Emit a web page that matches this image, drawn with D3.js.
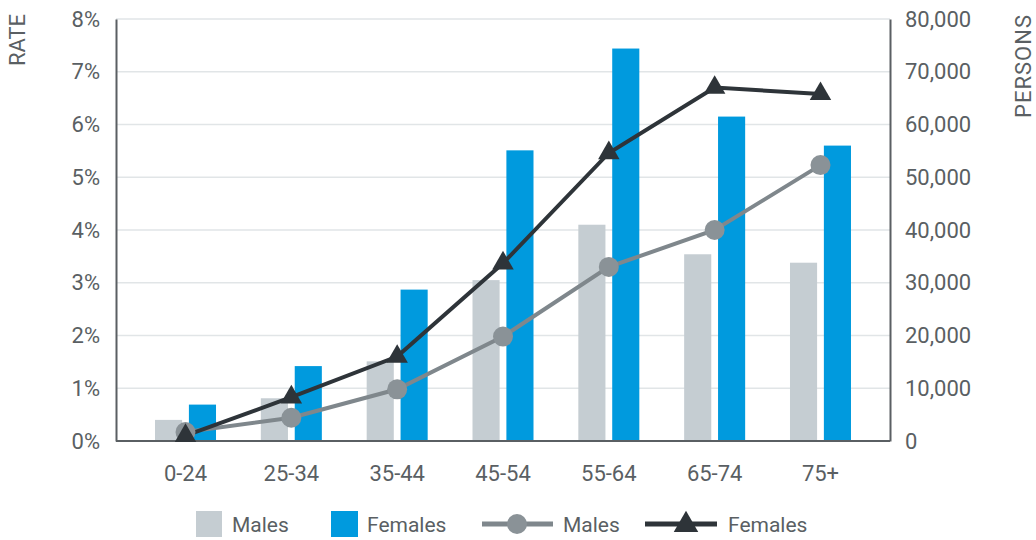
<!DOCTYPE html>
<html>
<head>
<meta charset="utf-8">
<script src="https://cdn.jsdelivr.net/npm/d3@7"></script>
<style>
  html, body { margin: 0; padding: 0; background: #ffffff; }
  svg text { font-family: Roboto, "DejaVu Sans", sans-serif; fill: #5a5f63; }
</style>
</head>
<body>
<svg id="chart" width="1036" height="540"></svg>
<script>
// Age groups
const categories = ["0-24", "25-34", "35-44", "45-54", "55-64", "65-74", "75+"];

// Number of persons (right axis)
const malesPersons   = [4000, 8100, 15100, 30500, 41000, 35400, 33800];
const femalesPersons = [6900, 14200, 28700, 55100, 74400, 61500, 56000];

// Rate in percent (left axis)
const malesRate   = [0.17, 0.44, 0.98, 1.98, 3.30, 4.00, 5.23];
const femalesRate = [0.10, 0.83, 1.60, 3.37, 5.46, 6.70, 6.58];

// Tick values
const rateTicks    = [0, 1, 2, 3, 4, 5, 6, 7, 8];
const personsTicks = [0, 10000, 20000, 30000, 40000, 50000, 60000, 70000, 80000];

const colors = {
  maleBar: "#c5cdd2",
  femaleBar: "#009ade",
  maleLine: "#7f878c",
  maleDot: "#8a9297",
  femaleLine: "#2e3439",
  grid: "#e1e5e7",
  axis: "#5a5f63"
};

const svg = d3.select("#chart");
const plot = { left: 116, right: 890, top: 19, bottom: 441 };

const x = d3.scaleBand()
  .domain(categories)
  .range([plot.left + 16.6, plot.right - 16.6]);

const xInner = d3.scaleBand()
  .domain(["Males", "Females"])
  .range([0, 61])
  .paddingInner(0.2);

const yRate = d3.scaleLinear().domain([0, 8]).range([plot.bottom, plot.top]);
const yPersons = d3.scaleLinear().domain([0, 80000]).range([plot.bottom, plot.top]);

// Horizontal gridlines
svg.append("g")
  .selectAll("line")
  .data(rateTicks.filter(d => d > 0))
  .join("line")
  .attr("x1", plot.left)
  .attr("x2", plot.right)
  .attr("y1", d => yRate(d))
  .attr("y2", d => yRate(d))
  .attr("stroke", colors.grid)
  .attr("stroke-width", 1.5);

// Bars
const groups = svg.append("g")
  .selectAll("g")
  .data(categories)
  .join("g")
  .attr("transform", d => `translate(${x(d) + x.bandwidth() / 2 - 30.5},0)`);

groups.append("rect")
  .attr("x", xInner("Males"))
  .attr("width", xInner.bandwidth())
  .attr("y", (d, i) => yPersons(malesPersons[i]))
  .attr("height", (d, i) => plot.bottom - yPersons(malesPersons[i]))
  .attr("fill", colors.maleBar);

groups.append("rect")
  .attr("x", xInner("Females"))
  .attr("width", xInner.bandwidth())
  .attr("y", (d, i) => yPersons(femalesPersons[i]))
  .attr("height", (d, i) => plot.bottom - yPersons(femalesPersons[i]))
  .attr("fill", colors.femaleBar);

// Axes
const leftAxis = d3.axisLeft(yRate)
  .tickValues(rateTicks)
  .tickFormat(d => d + "%")
  .tickSize(0)
  .tickPadding(16);

const rightAxis = d3.axisRight(yPersons)
  .tickValues(personsTicks)
  .tickFormat(d3.format(","))
  .tickSize(0)
  .tickPadding(15);

const bottomAxis = d3.axisBottom(x)
  .tickSize(0)
  .tickPadding(24);

function styleAxis(g) {
  g.select(".domain").attr("stroke", colors.axis).attr("stroke-width", 2);
  g.selectAll("text")
    .attr("font-size", 22)
    .attr("fill", "#5a5f63")
    .style("font-family", "Roboto, sans-serif");
}

svg.append("g")
  .attr("transform", `translate(${plot.left},0)`)
  .call(leftAxis)
  .call(styleAxis);

svg.append("g")
  .attr("transform", `translate(${plot.right},0)`)
  .call(rightAxis)
  .call(styleAxis);

const xg = svg.append("g")
  .attr("transform", `translate(0,${plot.bottom})`)
  .call(bottomAxis)
  .call(styleAxis);
xg.select(".domain").attr("d", `M${plot.left},0H${plot.right}`);

// Lines
const xc = d => x(d) + x.bandwidth() / 2;

const maleLine = d3.line()
  .x((d, i) => xc(categories[i]))
  .y(d => yRate(d));

svg.append("path")
  .datum(malesRate)
  .attr("d", maleLine)
  .attr("fill", "none")
  .attr("stroke", colors.maleLine)
  .attr("stroke-width", 4);

svg.append("path")
  .datum(femalesRate)
  .attr("d", maleLine)
  .attr("fill", "none")
  .attr("stroke", colors.femaleLine)
  .attr("stroke-width", 4);

svg.append("g")
  .selectAll("circle")
  .data(malesRate)
  .join("circle")
  .attr("cx", (d, i) => xc(categories[i]))
  .attr("cy", d => yRate(d))
  .attr("r", 10)
  .attr("fill", colors.maleDot);

const tri = d3.symbol().type(d3.symbolTriangle).size(200);
svg.append("g")
  .selectAll("path")
  .data(femalesRate)
  .join("path")
  .attr("transform", (d, i) => `translate(${xc(categories[i])},${yRate(d)})`)
  .attr("d", tri)
  .attr("fill", colors.femaleLine);

// Axis titles
svg.append("text")
  .attr("transform", "translate(25,40) rotate(-90)")
  .attr("text-anchor", "middle")
  .attr("font-size", 22)
  .text("RATE");

svg.append("text")
  .attr("transform", "translate(1031,66) rotate(-90)")
  .attr("text-anchor", "middle")
  .attr("font-size", 22)
  .attr("letter-spacing", 1)
  .text("PERSONS");

// Legend
const legend = svg.append("g");
const ly = 524;

legend.append("rect").attr("x", 196).attr("y", ly - 13).attr("width", 26).attr("height", 26).attr("fill", colors.maleBar);
legend.append("text").attr("x", 232).attr("y", ly + 8).attr("font-size", 21).text("Males");

legend.append("rect").attr("x", 331).attr("y", ly - 13).attr("width", 27).attr("height", 26).attr("fill", colors.femaleBar);
legend.append("text").attr("x", 367).attr("y", ly + 8).attr("font-size", 21).text("Females");

legend.append("line").attr("x1", 482).attr("x2", 553).attr("y1", ly).attr("y2", ly)
  .attr("stroke", colors.maleLine).attr("stroke-width", 5);
legend.append("circle").attr("cx", 517).attr("cy", ly).attr("r", 10).attr("fill", colors.maleDot);
legend.append("text").attr("x", 563).attr("y", ly + 8).attr("font-size", 21).text("Males");

legend.append("line").attr("x1", 645).attr("x2", 717).attr("y1", ly).attr("y2", ly)
  .attr("stroke", colors.femaleLine).attr("stroke-width", 5);
legend.append("path")
  .attr("transform", `translate(686,${ly + 1})`)
  .attr("d", d3.symbol().type(d3.symbolTriangle).size(260))
  .attr("fill", colors.femaleLine);
legend.append("text").attr("x", 728).attr("y", ly + 8).attr("font-size", 21).text("Females");
</script>
</body>
</html>
